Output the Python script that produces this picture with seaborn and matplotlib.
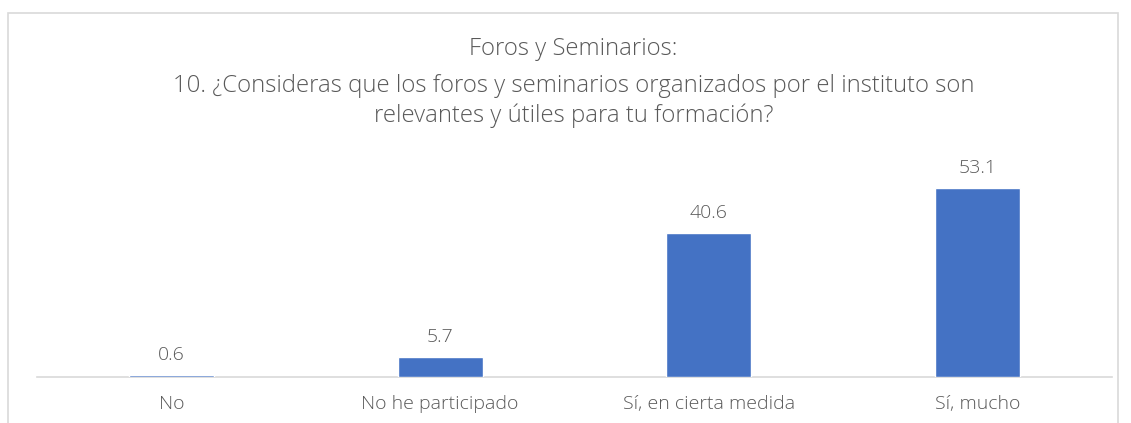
import matplotlib
matplotlib.use("Agg")
import matplotlib.pyplot as plt
import seaborn as sns
import pandas as pd
from matplotlib.patches import Rectangle

# ── data ──────────────────────────────────────────────────────────────
categories = ["No", "No he participado", "Sí, en cierta medida", "Sí, mucho"]
values = [0.6, 5.7, 40.6, 53.1]

df = pd.DataFrame({"respuesta": categories, "porcentaje": values})

sns.set_theme(style="white")
plt.rcParams["font.family"] = ["Open Sans", "DejaVu Sans"]

W, H = 1131, 423
fig = plt.figure(figsize=(W / 100, H / 100), dpi=100)

# plot area in pixel coords -> figure fractions
x0, x1 = 37, 1112
y_base, y_top = 377, 164
ax = fig.add_axes([x0 / W, 1 - y_base / H, (x1 - x0) / W, (y_base - y_top) / H])

sns.barplot(data=df, x="respuesta", y="porcentaje", color="#4472C4",
            width=0.316, saturation=1, ax=ax, zorder=3)
ax.set_ylim(0, 60)
ax.set_xlim(-0.5, 3.5)

grey = "#595959"
for i, v in enumerate(values):
    ax.annotate(f"{v:.1f}", (i, v), xytext=(0, 8), textcoords="offset points",
                ha="center", va="bottom", fontsize=14, color=grey,
                fontweight="light")

ax.set_xlabel("")
ax.set_ylabel("")
ax.set_yticks([])
ax.tick_params(axis="x", length=0, pad=13, labelsize=14, labelcolor=grey)
for lbl in ax.get_xticklabels():
    lbl.set_fontweight("light")
for s in ["top", "left", "right"]:
    ax.spines[s].set_visible(False)
ax.spines["bottom"].set_color("#d9d9d9")
ax.spines["bottom"].set_linewidth(1.2)
ax.spines["bottom"].set_zorder(1)

# outer chart frame (bottom edge falls outside the image)
fig.patches.append(Rectangle((8 / W, -0.1), (1118 - 8) / W, 1.1 - 13 / H,
                             transform=fig.transFigure, fill=False,
                             edgecolor="#d9d9d9", linewidth=1.2))

cx = 573.5 / W
title_kw = dict(ha="center", va="center", fontsize=17.2, color=grey,
                fontweight="light")
fig.text(cx, 1 - 49 / H, "Foros y Seminarios:", **title_kw)
fig.text(cx, 1 - 86 / H,
         "10. ¿Consideras que los foros y seminarios organizados por el instituto son",
         **title_kw)
fig.text(cx, 1 - 116 / H, "relevantes y útiles para tu formación?", **title_kw)

fig.savefig("out.png", dpi=100)
